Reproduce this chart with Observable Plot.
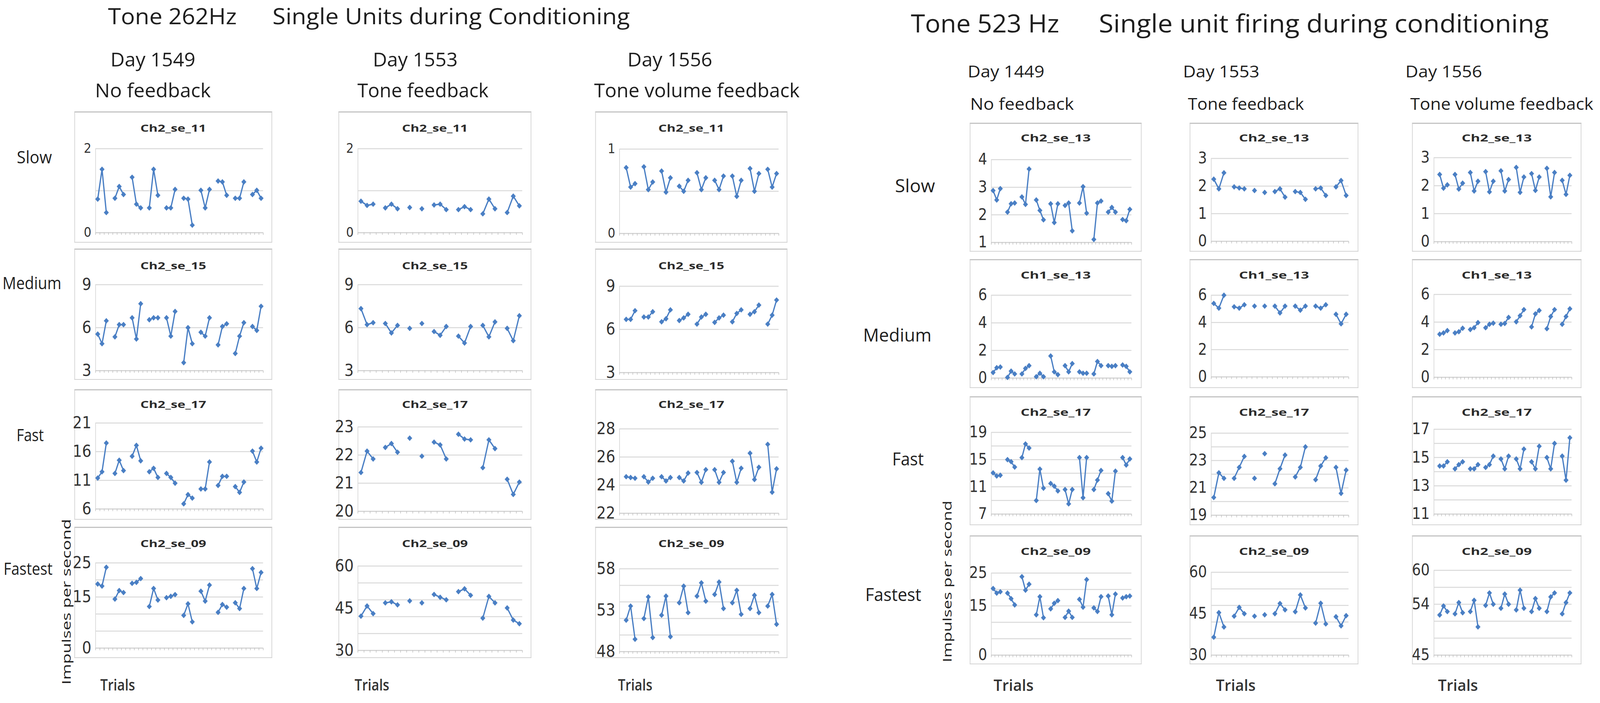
<!DOCTYPE html>
<html><head><meta charset="utf-8">
<script src="https://cdn.jsdelivr.net/npm/d3@7"></script>
<script src="https://cdn.jsdelivr.net/npm/@observablehq/plot@0.6"></script>
<style>
html,body{margin:0;padding:0;background:#fff;overflow:hidden;}
#wrap{position:relative;overflow:hidden;width:4562px;height:1799px;background:#fff;}
#fig{position:absolute;left:0;top:0;width:4562px;height:1799px;overflow:hidden;background:#fff;transform-origin:0 0;}
.box{position:absolute;box-sizing:border-box;border:2px solid #d3d3d3;border-top:3px solid #c4c4c4;background:#fff;}
.plot{position:absolute;}
</style></head><body><div id="wrap"><div id="fig"></div></div>
<script>
// ---------------- DATA (impulses per second per trial; null = gap between trial blocks) -------------
// Tone 262Hz — Day 1549, No feedback
const L1_slow    = [0.80,1.51,0.48,null,0.82,1.10,0.91,null,1.32,0.68,0.59,null,0.59,1.51,0.89,null,0.59,0.59,1.03,null,0.82,0.80,0.18,null,1.01,0.59,1.03,null,1.23,1.21,0.89,null,0.82,0.82,1.21,null,0.91,1.01,0.82];
const L1_medium  = [5.55,4.88,6.48,null,5.36,6.21,6.21,null,6.69,5.21,7.67,null,6.55,6.69,6.69,null,6.69,5.41,7.13,null,3.56,6.00,4.88,null,5.68,5.41,6.69,null,4.80,6.08,6.27,null,4.20,5.41,6.35,null,6.08,5.81,7.49];
const L1_fast    = [11.4,12.5,17.5,null,12.2,14.5,12.7,null,15.2,17.1,14.4,null,12.5,13.1,11.5,null,12.2,11.5,10.5,null,6.9,8.5,7.9,null,9.5,9.5,14.2,null,10.1,11.7,11.7,null,9.9,8.9,10.7,null,16.1,14.2,16.6];
const L1_fastest = [18.8,18.2,23.7,null,14.4,16.9,16.3,null,19.0,19.3,20.4,null,12.2,17.5,14.1,null,14.8,15.2,15.7,null,9.6,13.0,7.7,null,16.7,13.8,18.5,null,10.5,12.8,12.0,null,13.3,11.6,17.5,null,23.3,17.5,22.2];
// Tone 262Hz — Day 1553, Tone feedback
const L2_slow    = [0.75,0.65,0.68,null,0.59,0.68,0.57,null,0.60,null,0.57,null,0.66,0.68,0.55,null,0.55,0.62,0.55,null,0.45,0.80,0.57,null,0.48,0.87,0.64];
const L2_medium  = [7.33,6.21,6.35,null,6.29,5.63,6.16,null,5.95,null,6.29,null,5.73,5.47,6.08,null,5.41,4.93,6.08,null,6.16,5.36,6.40,null,5.95,5.09,6.83];
const L2_fast    = [21.38,22.14,21.86,null,22.27,22.41,22.10,null,22.60,null,21.96,null,22.46,22.36,21.86,null,22.74,22.57,22.54,null,21.55,22.54,22.23,null,21.14,20.60,21.04];
const L2_fastest = [42.2,45.8,43.1,null,46.9,47.3,46.2,null,47.6,null,46.9,null,49.9,48.9,48.0,null,50.9,51.9,49.6,null,41.5,49.2,46.9,null,45.1,40.8,39.5];
// Tone 262Hz — Day 1556, Tone volume feedback
const L3_slow    = [null,0.78,0.55,0.59,null,0.79,0.52,0.61,null,0.74,0.49,0.66,null,0.56,0.50,0.63,null,0.72,0.52,0.66,null,0.63,0.52,0.68,null,0.68,0.44,0.63,null,0.77,0.50,0.71,null,0.76,0.55,0.71];
const L3_medium  = [null,6.70,6.70,7.30,null,6.86,6.86,7.23,null,6.53,6.74,7.36,null,6.62,6.80,7.05,null,6.37,6.86,7.05,null,6.49,6.80,6.99,null,6.53,7.11,7.36,null,7.05,7.23,7.69,null,6.37,6.99,8.04];
const L3_fast    = [null,24.6,24.54,24.49,null,24.6,24.22,24.49,null,24.6,24.3,24.54,null,24.54,24.3,24.86,null,24.9,24.2,25.1,null,25.1,24.2,24.9,null,25.7,24.2,25.2,null,26.27,24.4,25.27,null,26.9,23.5,25.16];
const L3_fastest = [null,51.8,53.5,49.5,null,52.0,54.6,49.7,null,52.4,54.7,49.8,null,53.9,55.9,52.7,null,54.7,56.3,54.1,null,54.9,56.4,53.2,null,53.9,55.4,52.5,null,53.2,54.8,52.7,null,53.5,54.9,51.3];
// Tone 523 Hz — Day 1449, No feedback
const R1_slow    = [2.88,2.54,2.95,null,2.10,2.40,2.43,null,2.65,2.38,3.66,null,2.54,2.16,1.82,null,2.40,1.72,2.40,null,2.34,2.43,1.42,null,2.43,3.02,2.06,null,1.11,2.43,2.50,null,2.10,2.27,2.10,null,1.83,1.79,2.20];
const R1_medium  = [0.40,0.75,0.80,null,0.05,0.50,0.30,null,0.30,0.70,0.90,null,0.10,0.35,0.10,null,1.60,0.45,0.25,null,0.90,0.45,1.05,null,0.45,0.35,0.35,null,0.30,1.20,0.90,null,0.90,0.85,0.90,null,0.95,0.85,0.45];
const R1_fast    = [13.05,12.6,12.7,null,15.0,14.7,13.9,null,15.3,17.3,16.7,null,9.0,13.6,10.8,null,11.5,11.1,10.4,null,10.6,8.5,10.6,null,15.3,9.4,15.3,null,10.6,12.0,13.4,null,10.0,8.9,13.3,null,15.3,14.2,15.1];
const R1_fastest = [20.3,18.9,19.3,null,18.9,17.2,15.3,null,23.9,19.8,21.6,null,12.3,17.8,11.4,null,14.1,15.8,16.6,null,11.5,13.4,11.5,null,17.0,14.6,23.0,null,14.4,13.3,17.8,null,18.0,12.3,18.6,null,17.4,17.8,18.0];
// Tone 523 Hz — Day 1553, Tone feedback
const R2_slow    = [2.25,1.90,2.48,null,1.97,1.93,1.90,null,1.84,null,1.77,null,1.80,1.90,1.60,null,1.80,1.77,1.52,null,1.90,1.93,1.66,null,1.97,2.20,1.66];
const R2_medium  = [5.40,5.05,6.00,null,5.15,5.05,5.30,null,5.20,null,5.20,null,5.20,4.70,5.20,null,5.20,4.90,5.20,null,5.20,5.05,5.30,null,4.60,3.90,4.60];
const R2_fast    = [20.3,22.1,21.7,null,21.7,22.5,23.3,null,21.7,null,23.5,null,21.3,22.4,23.4,null,21.8,22.5,24.0,null,21.6,22.6,23.2,null,22.5,20.6,22.3];
const R2_fastest = [36.5,45.4,40.2,null,44.1,47.3,45.0,null,44.1,null,44.6,null,45.0,48.7,46.4,null,45.7,51.8,47.1,null,41.6,48.8,41.3,null,43.9,40.6,44.3];
// Tone 523 Hz — Day 1556, Tone volume feedback
const R3_slow    = [null,2.40,1.91,2.03,null,2.40,1.88,2.09,null,2.47,1.81,2.16,null,2.50,1.78,2.16,null,2.53,1.81,2.22,null,2.65,1.76,2.31,null,2.43,1.83,2.31,null,2.62,1.60,2.47,null,2.19,1.69,2.37];
const R3_medium  = [null,3.12,3.21,3.38,null,3.21,3.30,3.55,null,3.46,3.59,3.96,null,3.59,3.84,3.92,null,3.84,3.90,4.34,null,4.02,4.46,4.90,null,3.65,4.59,4.84,null,3.52,4.40,4.90,null,3.84,4.40,4.96];
const R3_fast    = [null,14.4,14.4,14.7,null,14.2,14.5,14.7,null,14.2,14.2,14.5,null,14.3,14.5,15.1,null,14.9,14.2,15.1,null,14.9,14.2,15.6,null,14.7,14.2,15.8,null,15.0,14.2,16.0,null,15.1,13.4,16.4];
const R3_fastest = [null,52.1,53.7,52.7,null,52.3,54.3,52.5,null,52.7,54.7,50.0,null,53.8,56.0,54.0,null,53.3,55.8,54.0,null,53.0,56.5,53.3,null,52.7,55.0,53.3,null,52.7,55.3,56.0,null,52.3,54.3,56.0];

// y axes: [domain, gridlines, tick labels]
const L1_axes = [[[0,2],[0,1,2],[0,2]], [[3,9],[3,6,9],[3,6,9]], [[6,21],[6,11,16,21],[6,11,16,21]], [[0,25],[0,5,10,15,20,25],[0,15,25]]];
const L2_axes = [[[0,2],[0,1,2],[0,2]], [[3,9],[3,6,9],[3,6,9]], [[20,23],[20,21,22,23],[20,21,22,23]], [[30,60],[30,36,42,48,54,60],[30,45,60]]];
const L3_axes = [[[0,1],[0,0.5,1],[0,1]], [[3,9],[3,6,9],[3,6,9]], [[22,28],[22,24,26,28],[22,24,26,28]], [[48,58],[48,50,52,54,56,58],[48,53,58]]];
const R1_axes = [[[1,4],[1,2,3,4],[1,2,3,4]], [[0,6],[0,2,4,6],[0,2,4,6]], [[7,19],[7,9,11,13,15,17,19],[7,11,15,19]], [[0,25],[0,5,10,15,20,25],[0,15,25]]];
const R2_axes = [[[0,3],[0,1,2,3],[0,1,2,3]], [[0,6],[0,2,4,6],[0,2,4,6]], [[19,25],[19,20,21,22,23,24,25],[19,21,23,25]], [[30,60],[30,36,42,48,54,60],[30,45,60]]];
const R3_axes = [[[0,3],[0,1,2,3],[0,1,2,3]], [[0,6],[0,2,4,6],[0,2,4,6]], [[11,17],[11,12,13,14,15,16,17],[11,13,15,17]], [[45,60],[45,48,51,54,57,60],[45,54,60]]];

const unitsL = ["Ch2_se_11","Ch2_se_15","Ch2_se_17","Ch2_se_09"];
const unitsR = ["Ch2_se_13","Ch1_se_13","Ch2_se_17","Ch2_se_09"];
const speeds = ["Slow","Medium","Fast","Fastest"];

// ---------------- LAYOUT ----------------
const BLUE = "#4a7fc4";
const wrap = document.getElementById("wrap");
const fig = document.getElementById("fig");

const groupL = {
  cols: [{bx:[212,776], px:[272,750], series:[L1_slow,L1_medium,L1_fast,L1_fastest], axes:L1_axes, py:[[380,595],[728,948],[1082,1302],[1440,1658]]},
         {bx:[965,1515], px:[1020,1489], series:[L2_slow,L2_medium,L2_fast,L2_fastest], axes:L2_axes, py:[[380,595],[728,948],[1092,1308],[1448,1664]]},
         {bx:[1697,2245], px:[1766,2220], series:[L3_slow,L3_medium,L3_fast,L3_fastest], axes:L3_axes, py:[[381,597],[732,953],[1097,1313],[1455,1667]]}],
  rows: [{by:[285,621], ty:328},{by:[636,972], ty:680},{by:[996,1330], ty:1035},{by:[1348,1684], ty:1391}],
  units: unitsL, fs:[34,42,42,42], tw:188
};
const groupR = {
  cols: [{bx:[2765,3255], px:[2826,3226], series:[R1_slow,R1_medium,R1_fast,R1_fastest], axes:R1_axes, py:[[408,620],[755,967],[1106,1315],[1466,1676]]},
         {bx:[3392,3873], px:[3453,3845], series:[R2_slow,R2_medium,R2_fast,R2_fastest], axes:R2_axes, py:[[405,617],[755,964],[1108,1318],[1464,1676]]},
         {bx:[4026,4509], px:[4088,4481], series:[R3_slow,R3_medium,R3_fast,R3_fastest], axes:R3_axes, py:[[403,618],[753,965],[1098,1315],[1459,1676]]}],
  rows: [{by:[314,644], ty:353},{by:[663,993], ty:704},{by:[1014,1344], ty:1055},{by:[1370,1700], ty:1411}],
  units: unitsR, fs:[40,40,40,40], tw:200
};

const texts = [];
function T(s, x, y, size, w, o = {}) { texts.push(Object.assign({s, x, y, size, w}, o)); }

function drawPanel(values, axes, px, py, fs) {
  const n = values.length;
  const data = values.map((v, i) => ({i, v: v == null ? NaN : v}));
  const [dom, grid, labs] = axes;
  const mL = 90, mR = 8, mT = 20, mB = 14;
  const svg = Plot.plot({
    width: px[1] - px[0] + mL + mR,
    height: py[1] - py[0] + mT + mB,
    marginLeft: mL, marginRight: mR, marginTop: mT, marginBottom: mB,
    x: {domain: [-0.5, n - 0.5], label: null},
    y: {domain: dom, label: null},
    style: {background: "transparent", color: "#333333", fontFamily: "DejaVu Sans", overflow: "visible"},
    marks: [
      Plot.gridY(grid, {stroke: "#d9d9d9", strokeOpacity: 1, strokeWidth: 2.5}),
      Plot.ruleX([-0.5], {stroke: "#d9d9d9", strokeWidth: 2}),
      Plot.ruleY([dom[0]], {stroke: "#d0d0d0", strokeWidth: 2}),
      Plot.axisX(d3.range(n + 1).map(i => i - 0.5), {anchor: "bottom", tickSize: 6, tickPadding: 0, tickFormat: () => "", label: null, stroke: "#bcbcbc", strokeWidth: 1.5}),
      Plot.axisY(labs, {anchor: "left", tickSize: 0, tickPadding: 12, fontSize: fs, tickFormat: d => String(d), label: null}),
      Plot.line(data, {x: "i", y: "v", stroke: BLUE, strokeWidth: 3.6}),
      Plot.dot(data.filter(d => !isNaN(d.v)), {x: "i", y: "v", symbol: "diamond2", r: 6.5, fill: BLUE, stroke: "none"})
    ]
  });
  svg.classList.add("plot");
  svg.style.left = (px[0] - mL) + "px";
  svg.style.top = (py[0] - mT) + "px";
  fig.appendChild(svg);
}

for (const g of [groupL, groupR]) {
  g.cols.forEach((c) => {
    g.rows.forEach((r, ri) => {
      const b = document.createElement("div");
      b.className = "box";
      b.style.left = c.bx[0] + "px"; b.style.top = r.by[0] + "px";
      b.style.width = (c.bx[1] - c.bx[0]) + "px"; b.style.height = (r.by[1] - r.by[0]) + "px";
      fig.appendChild(b);
      drawPanel(c.series[ri], c.axes[ri], c.px, c.py[ri], g.fs[ri]);
      T(g.units[ri], (c.bx[0] + c.bx[1]) / 2, r.ty + 9, 25, g.tw, {anchor: "middle", weight: 700, fill: "#2b2b2b"});
    });
  });
}

// Titles
T("Tone 262Hz", 308, 62, 56, 367);
T("Single Units during Conditioning", 777, 62, 56, 1019);
T("Tone 523 Hz", 2597, 83, 64, 423);
T("Single unit firing during conditioning", 3133, 83, 64, 1283);
// Column headers
T("Day 1549", 315, 170, 50, 242); T("No feedback", 271, 249, 50, 330);
T("Day 1553", 1063, 170, 50, 242); T("Tone feedback", 1019, 249, 50, 374);
T("Day 1556", 1789, 170, 50, 242); T("Tone volume feedback", 1694, 249, 50, 586);
T("Day 1449", 2759, 198, 42, 219); T("No feedback", 2766, 281, 42, 296);
T("Day 1553", 3373, 198, 42, 218); T("Tone feedback", 3387, 281, 42, 331);
T("Day 1556", 4007, 198, 42, 219); T("Tone volume feedback", 4021, 281, 42, 522);
// Row labels
[[48,418,100],[7,740,168],[47,1129,78],[10,1471,140]].forEach((p, i) => T(speeds[i], p[0], p[1], 44, p[2]));
[[2552,492,114],[2461,874,195],[2544,1191,90],[2467,1538,160]].forEach((p, i) => T(speeds[i], p[0], p[1], 46, p[2]));
// Axis titles
T("Impulses per second", 188, 1540, 34, 424, {anchor: "middle", rotate: true});
T("Impulses per second", 2699, 1488, 34, 414, {anchor: "middle", rotate: true});
[[286,99],[1011,99],[1762,98]].forEach(p => T("Trials", p[0], 1767, 40, p[1], {weight: 600, fill: "#333"}));
[[2833,114],[3467,113],[4100,114]].forEach(p => T("Trials", p[0], 1768, 40, p[1], {weight: 600, fill: "#333"}));

const ov = d3.select(fig).append("svg")
  .attr("width", 4562).attr("height", 1799)
  .style("position", "absolute").style("left", "0px").style("top", "0px");
for (const t of texts) {
  const el = ov.append("text")
    .attr("font-family", "'Open Sans', 'Noto Sans', sans-serif")
    .attr("font-size", t.size)
    .attr("font-weight", t.weight || 400)
    .attr("fill", t.fill || "#1e1e1e")
    .attr("text-anchor", t.anchor || "start")
    .attr("textLength", t.w)
    .attr("lengthAdjust", "spacingAndGlyphs")
    .text(t.s);
  if (t.rotate) {
    el.attr("dominant-baseline", "central").attr("transform", `translate(${t.x},${t.y}) rotate(-90)`);
  } else {
    el.attr("x", t.x).attr("y", t.y);
  }
}

// fill the actual viewport with the 4562×1799 figure (the viewport may not have exactly that size in CSS pixels)
function fit() {
  const W = document.documentElement.clientWidth || window.innerWidth;
  const H = document.documentElement.clientHeight || window.innerHeight;
  const sx = W / 4562, sy = H / 1799;
  fig.style.transform = (Math.abs(sx - 1) > 0.001 || Math.abs(sy - 1) > 0.001) ? `scale(${sx},${sy})` : "";
  wrap.style.width = W + "px";
  wrap.style.height = H + "px";
}
fit();
window.addEventListener("resize", fit);
</script></body></html>
